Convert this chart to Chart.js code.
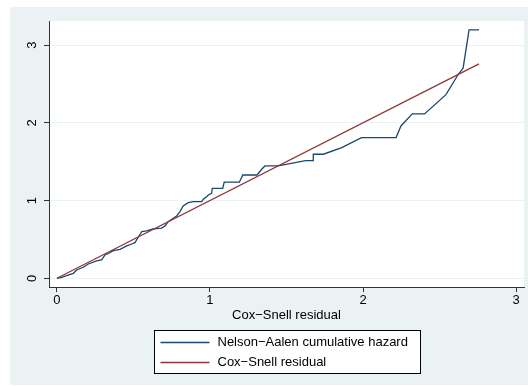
<!DOCTYPE html>
<html>
<head>
<meta charset="utf-8">
<style>
    html, body { margin: 0; padding: 0; background: #fff; }
    #wrap { width: 528px; height: 386px; }
</style>
</head>
<body>
<div id="wrap"><canvas id="csChart" width="528" height="386"></canvas></div>

<script src="https://cdn.jsdelivr.net/npm/chart.js@4.4.0/dist/chart.umd.min.js"></script>
<script>
    // Nelson-Aalen cumulative hazard (x = Cox-Snell residual)
    const naX = [0, 0.031, 0.063, 0.107, 0.129, 0.172, 0.205, 0.259, 0.292, 0.314, 0.346, 0.368,
        0.412, 0.456, 0.488, 0.510, 0.531, 0.554, 0.586, 0.629, 0.662, 0.684, 0.706, 0.727,
        0.760, 0.782, 0.804, 0.825, 0.858, 0.891, 0.946, 0.956, 0.978, 0.989, 1.011, 1.015,
        1.083, 1.093, 1.192, 1.214, 1.307, 1.338, 1.359, 1.446, 1.625, 1.675, 1.675, 1.741,
        1.861, 1.990, 2.216, 2.248, 2.322, 2.402, 2.542, 2.623, 2.654, 2.693, 2.758];
    const naY = [0, 0.013, 0.033, 0.064, 0.107, 0.142, 0.184, 0.223, 0.236, 0.300, 0.329, 0.355,
        0.373, 0.416, 0.441, 0.458, 0.528, 0.600, 0.609, 0.634, 0.643, 0.645, 0.673, 0.728,
        0.772, 0.802, 0.857, 0.930, 0.973, 0.986, 0.986, 1.017, 1.050, 1.072, 1.094, 1.158,
        1.158, 1.236, 1.236, 1.329, 1.329, 1.403, 1.445, 1.445, 1.513, 1.513, 1.596, 1.596,
        1.681, 1.810, 1.810, 1.960, 2.115, 2.115, 2.363, 2.625, 2.703, 3.196, 3.196];

    // 45-degree reference line
    const refX = [0, 2.758];
    const refY = [0, 2.758];

    const xTicks = [0, 1, 2, 3];
    const yTicks = [0, 1, 2, 3];
    const seriesLabels = ['Nelson\u2212Aalen cumulative hazard', 'Cox\u2212Snell residual'];
    const xTitle = 'Cox\u2212Snell residual';

    const FONT = "'Liberation Sans', Arial, Helvetica, sans-serif";
    const navy = '#1A476F';
    const maroon = '#90353B';
    const bg = '#EAF2F3';
    const axisCol = '#333333';

    Chart.defaults.font.family = FONT;
    Chart.defaults.font.size = 13;
    Chart.defaults.color = '#000';

    const toPoints = (xs, ys) => xs.map((x, i) => ({ x: x, y: ys[i] }));

    // grey graph region + white plot region
    const backdrop = {
        id: 'backdrop',
        beforeDraw(chart) {
            const ctx = chart.ctx, a = chart.chartArea;
            ctx.save();
            ctx.fillStyle = '#fff';
            ctx.fillRect(0, 0, chart.width, chart.height);
            ctx.fillStyle = bg;
            ctx.fillRect(10, 7, chart.width - 10, chart.height - 8);
            ctx.fillStyle = '#fff';
            ctx.fillRect(a.left, a.top, a.right - a.left, a.bottom - a.top);
            ctx.restore();
        }
    };

    // Stata style boxed legend under the axis title
    const boxLegend = {
        id: 'boxLegend',
        afterDraw(chart) {
            const ctx = chart.ctx, a = chart.chartArea;
            const sets = chart.data.datasets;
            ctx.save();
            ctx.font = '13px ' + FONT;
            let w = 0;
            sets.forEach(d => { w = Math.max(w, ctx.measureText(d.label).width); });
            const boxW = Math.round(w + 76);
            const boxH = 43;
            const left = Math.round((a.left + a.right) / 2 - boxW / 2) + 0.5;
            const top = a.bottom + 43 + 0.5;
            ctx.fillStyle = '#fff';
            ctx.fillRect(left, top, boxW, boxH);
            ctx.strokeStyle = '#000';
            ctx.lineWidth = 1;
            ctx.strokeRect(left, top, boxW, boxH);
            ctx.textBaseline = 'middle';
            ctx.textAlign = 'left';
            sets.forEach((d, i) => {
                const y = top + 12 + i * 20;
                ctx.strokeStyle = d.borderColor;
                ctx.lineWidth = d.borderWidth;
                ctx.beginPath();
                ctx.moveTo(left + 6, y);
                ctx.lineTo(left + 55, y);
                ctx.stroke();
                ctx.fillStyle = '#000';
                ctx.fillText(d.label, left + 63, y);
            });
            ctx.restore();
        }
    };

    new Chart(document.getElementById('csChart'), {
        type: 'line',
        data: {
            datasets: [
                {
                    label: seriesLabels[0],
                    data: toPoints(naX, naY),
                    borderColor: navy,
                    backgroundColor: navy,
                    borderWidth: 1.3,
                    pointRadius: 0,
                    tension: 0,
                    fill: false,
                    order: 1
                },
                {
                    label: seriesLabels[1],
                    data: toPoints(refX, refY),
                    borderColor: maroon,
                    backgroundColor: maroon,
                    borderWidth: 1.3,
                    pointRadius: 0,
                    tension: 0,
                    fill: false,
                    order: 0
                }
            ]
        },
        options: {
            responsive: false,
            animation: false,
            layout: { padding: { left: 0, top: 21, right: 4, bottom: 63 } },
            scales: {
                x: {
                    type: 'linear',
                    min: -0.052,
                    max: 3.052,
                    afterBuildTicks: s => { s.ticks = xTicks.map(v => ({ value: v })); },
                    afterFit: s => { s.height = 36; },
                    grid: { drawOnChartArea: false, tickLength: 5, tickColor: axisCol, tickWidth: 1 },
                    border: { color: axisCol, width: 1 },
                    ticks: { padding: 1, maxRotation: 0, font: { size: 13 } },
                    title: { display: true, text: xTitle, font: { size: 13 }, padding: { top: 0, bottom: 0 } }
                },
                y: {
                    type: 'linear',
                    min: -0.112,
                    max: 3.31,
                    afterBuildTicks: s => { s.ticks = yTicks.map(v => ({ value: v })); },
                    afterFit: s => { s.width = 49; },
                    grid: { color: bg, lineWidth: 1, tickLength: 5, tickColor: axisCol, tickWidth: 1 },
                    border: { color: axisCol, width: 1 },
                    ticks: { minRotation: 90, maxRotation: 90, crossAlign: 'center', padding: 8, font: { size: 13 } }
                }
            },
            plugins: {
                legend: { display: false },
                tooltip: { enabled: false }
            }
        },
        plugins: [backdrop, boxLegend]
    });
</script>
</body>
</html>
